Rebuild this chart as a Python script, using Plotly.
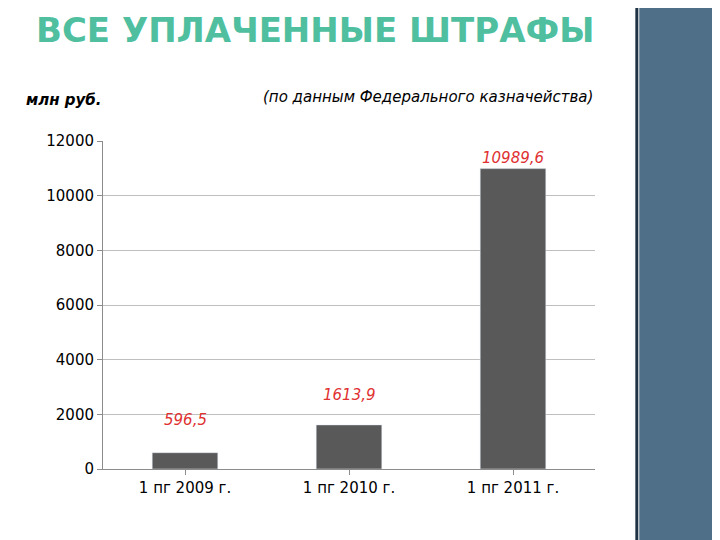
import plotly.graph_objects as go

categories = ["1 пг 2009 г.", "1 пг 2010 г.", "1 пг 2011 г."]
values = [596.5, 1613.9, 10989.6]
labels = ["596,5", "1613,9", "10989,6"]
label_shift = [33, 30, 11]

fig = go.Figure(go.Bar(x=categories, y=values, marker_color="#595959", width=0.4))

for c, v, t, s in zip(categories, values, labels, label_shift):
    fig.add_annotation(x=c, y=v, text=t, showarrow=False, yshift=s,
                       font=dict(family="DejaVu Sans", size=15, color="#e03030", style="italic"))

fig.add_annotation(xref="paper", yref="paper", x=-0.16, y=1.09, xanchor="left", yanchor="bottom",
                   text="<b><i>млн руб.</i></b>", showarrow=False,
                   font=dict(family="DejaVu Sans", size=15, color="black"))
fig.add_annotation(xref="paper", yref="paper", x=1.0, y=1.1, xanchor="right", yanchor="bottom",
                   text="<i>(по данным Федерального казначейства)</i>", showarrow=False,
                   font=dict(family="DejaVu Sans", size=15, color="black"))
fig.add_annotation(xref="paper", yref="paper", x=-0.14, y=1.27, xanchor="left", yanchor="bottom",
                   text="<b>ВСЕ УПЛАЧЕННЫЕ ШТРАФЫ</b>", showarrow=False,
                   font=dict(family="DejaVu Sans", size=34, color="#4fbf9f"))

# decorative right panel
fig.add_shape(type="rect", xref="paper", yref="paper", x0=1.09, x1=1.3, y0=-0.3, y1=1.5,
              fillcolor="#4f6f88", line_width=0, layer="below")
fig.add_shape(type="line", xref="paper", yref="paper", x0=1.085, x1=1.085, y0=-0.3, y1=1.5,
              line=dict(color="#1f3346", width=3))

fig.update_layout(
    width=720, height=540, margin=dict(l=95, r=133, t=133, b=79),
    plot_bgcolor="white", paper_bgcolor="white", showlegend=False,
    font=dict(family="DejaVu Sans", size=15, color="black"),
    yaxis=dict(range=[0, 12000], dtick=2000, tickformat="d", gridcolor="#bfbfbf", showline=True,
               linecolor="#8c8c8c", ticks="outside", ticklen=5, tickcolor="#8c8c8c", zeroline=False),
    xaxis=dict(showline=True, linecolor="#8c8c8c", ticks="outside", tickcolor="#8c8c8c"),
)
fig.write_html("out.html")
